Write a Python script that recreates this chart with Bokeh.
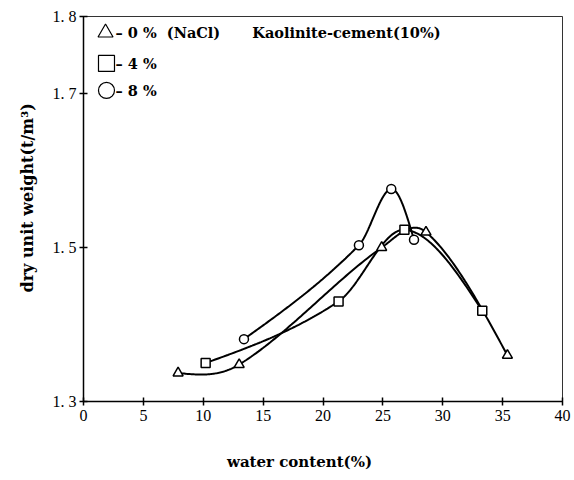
import numpy as np
from bokeh.plotting import figure
from bokeh.models import FixedTicker
from bokeh.core.properties import value
from bokeh.embed import file_html
from bokeh.resources import INLINE

# Compaction curves: Kaolinite-cement (10%) with NaCl content 0 %, 4 %, 8 %
w_nacl0 = [7.9, 13.0, 24.9, 28.6, 35.4]
gd_nacl0 = [1.337, 1.348, 1.50, 1.52, 1.36]

w_nacl4 = [10.2, 21.3, 26.8, 33.3]
gd_nacl4 = [1.350, 1.430, 1.523, 1.418]

w_nacl8 = [13.4, 23.0, 25.7, 27.6]
gd_nacl8 = [1.381, 1.503, 1.576, 1.510]

x_ticks = [0, 5, 10, 15, 20, 25, 30, 35, 40]
y_ticks = [1.3, 1.5, 1.7, 1.8]
y_tick_labels = {1.3: "1. 3", 1.5: "1. 5", 1.7: "1. 7", 1.8: "1. 8"}

legend_text = ["–\u00a00 %\u00a0 (NaCl)", "–\u00a04 %", "–\u00a08 %"]
title_text = "Kaolinite-cement(10%)"

TICK_FONT = "Liberation Serif"
TEXT_FONT = "DejaVu Serif"
NB = "\u00a0"


def smooth(xs, ys, n=60):
    """Cubic Hermite curve y(x): Catmull-Rom slopes inside, natural ends."""
    xs = np.asarray(xs, float)
    ys = np.asarray(ys, float)
    sec = np.diff(ys) / np.diff(xs)
    m = np.zeros_like(ys)
    m[1:-1] = (ys[2:] - ys[:-2]) / (xs[2:] - xs[:-2])
    m[0] = (3 * sec[0] - m[1]) / 2
    m[-1] = (3 * sec[-1] - m[-2]) / 2
    px, py = [], []
    for i in range(len(xs) - 1):
        h = xs[i + 1] - xs[i]
        t = np.linspace(0, 1, n, endpoint=(i == len(xs) - 2))
        h00 = 2 * t**3 - 3 * t**2 + 1
        h10 = t**3 - 2 * t**2 + t
        h01 = -2 * t**3 + 3 * t**2
        h11 = t**3 - t**2
        px.extend(xs[i] + t * h)
        py.extend(h00 * ys[i] + h10 * h * m[i] + h01 * ys[i + 1] + h11 * h * m[i + 1])
    return px, py


p = figure(width=574, height=480, x_range=(0, 40), y_range=(1.3, 1.8),
           frame_width=479, frame_height=385,
           output_backend="svg", toolbar_location=None,
           min_border_left=83, min_border_right=12,
           min_border_top=16, min_border_bottom=79)

p.xgrid.visible = False
p.ygrid.visible = False
p.outline_line_color = "black"
p.outline_line_alpha = 0.8
p.outline_line_width = 1
p.background_fill_color = "white"
p.border_fill_color = "white"

p.xaxis.ticker = FixedTicker(ticks=x_ticks)
p.yaxis.ticker = FixedTicker(ticks=y_ticks)
p.yaxis.major_label_overrides = y_tick_labels
for ax in (p.xaxis, p.yaxis):
    ax.axis_line_color = "black"
    ax.axis_line_width = 1.5
    ax.major_tick_line_color = "black"
    ax.major_tick_line_width = 1.5
    ax.major_tick_in = 4
    ax.major_tick_out = 4
    ax.minor_tick_line_color = None
    ax.major_label_text_font = TICK_FONT
    ax.major_label_text_font_size = "16px"
    ax.major_label_text_color = "black"
    ax.axis_label_text_font = TEXT_FONT
    ax.axis_label_text_font_style = "bold"
    ax.axis_label_text_color = "black"

p.xaxis.major_label_standoff = 4
p.yaxis.major_label_standoff = 3
p.xaxis.axis_label = "water content(%)" + NB * 9
p.xaxis.axis_label_text_font_size = "15px"
p.xaxis.axis_label_standoff = 29
p.yaxis.axis_label = NB * 4 + "dry unit weight(t/m³)"
p.yaxis.axis_label_text_font_size = "16px"
p.yaxis.axis_label_standoff = 13

# fitted compaction curves
for xs, ys in ((w_nacl0, gd_nacl0), (w_nacl4, gd_nacl4), (w_nacl8, gd_nacl8)):
    cx, cy = smooth(xs, ys)
    p.line(cx, cy, line_color="black", line_width=2)

# measured points
p.scatter(w_nacl0, gd_nacl0, marker="triangle", size=10, fill_color="white",
          line_color="black", line_width=1.5)
p.scatter(w_nacl4, gd_nacl4, marker="square", size=9, fill_color="white",
          line_color="black", line_width=1.5)
p.scatter(w_nacl8, gd_nacl8, marker="circle", size=9, fill_color="white",
          line_color="black", line_width=1.5)

# legend block
leg_x = [1.84, 1.92, 1.92]
leg_y = [1.779, 1.739, 1.704]
leg_markers = ["triangle", "square", "circle"]
leg_sizes = [15, 16, 16]
for mx, my, mk, ms in zip(leg_x, leg_y, leg_markers, leg_sizes):
    p.scatter([mx], [my], marker=mk, size=ms, fill_color="white",
              line_color="black", line_width=1.2)
p.text([2.67] * 3, leg_y, text=legend_text, text_font=value(TEXT_FONT),
       text_font_style="bold", text_font_size="14.5px", text_color="black",
       text_baseline="middle", text_align="left")
p.text([14.1], [1.779], text=[title_text], text_font=value(TEXT_FONT),
       text_font_style="bold", text_font_size="14.5px", text_color="black",
       text_baseline="middle", text_align="left")

open("out.html", "w").write(file_html(p, INLINE))
